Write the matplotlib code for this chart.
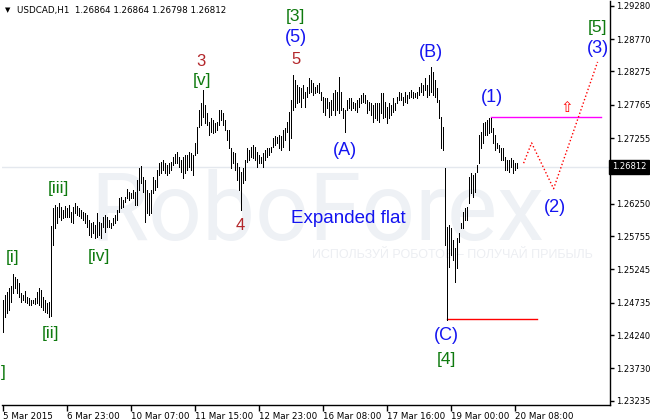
import matplotlib
matplotlib.use("Agg")
import matplotlib.pyplot as plt
import matplotlib.transforms as mtransforms

# USDCAD H1 bars, 5 Mar 2015 15:00 .. 20 Mar
highs = [
    1.2478, 1.2485, 1.2490, 1.2496, 1.2499, 1.2518, 1.2513, 1.2510, 1.2504, 1.2488,
    1.2485, 1.2492, 1.2482, 1.2481, 1.2478, 1.2478, 1.2481, 1.2490, 1.2496, 1.2493,
    1.2482, 1.2478, 1.2473, 1.2475, 1.2591,
    1.2618, 1.2623, 1.2620, 1.2626, 1.2620, 1.2615, 1.2622, 1.2618, 1.2623, 1.2612,
    1.2620, 1.2626, 1.2622, 1.2618, 1.2615, 1.2612, 1.2611, 1.2608, 1.2600, 1.2596,
    1.2597, 1.2592, 1.2611, 1.2597, 1.2596, 1.2605, 1.2608, 1.2605, 1.2600, 1.2596,
    1.2603, 1.2608, 1.2615, 1.2634, 1.2635, 1.2631, 1.2635, 1.2648, 1.2643, 1.2641,
    1.2646, 1.2643, 1.2661, 1.2680, 1.2683, 1.2666, 1.2661, 1.2646, 1.2641, 1.2646,
    1.2666, 1.2661, 1.2677, 1.2687, 1.2689, 1.2692, 1.2687, 1.2684, 1.2687, 1.2689,
    1.2697, 1.2701,
    1.2704, 1.2697, 1.2692, 1.2697, 1.2700, 1.2700, 1.2704, 1.2703, 1.2700, 1.2718,
    1.2742, 1.2768, 1.2779, 1.2799, 1.2776, 1.2764, 1.2750, 1.2756, 1.2753, 1.2749,
    1.2750, 1.2768, 1.2768, 1.2764, 1.2753, 1.2738, 1.2738, 1.2710, 1.2704, 1.2703,
    1.2687, 1.2681, 1.2674, 1.2680, 1.2692, 1.2710, 1.2707, 1.2712, 1.2715, 1.2712,
    1.2704, 1.2700, 1.2697, 1.2703, 1.2707, 1.2710, 1.2710, 1.2712, 1.2726, 1.2729,
    1.2727, 1.2730, 1.2729, 1.2738, 1.2741, 1.2750, 1.2765, 1.2784, 1.2822, 1.2814,
    1.2807, 1.2804, 1.2802, 1.2807, 1.2796, 1.2804, 1.2817, 1.2814, 1.2810, 1.2804,
    1.2807, 1.2810, 1.2796, 1.2788, 1.2787, 1.2787, 1.2781, 1.2784, 1.2794, 1.2799,
    1.2796, 1.2819, 1.2796, 1.2771, 1.2768, 1.2784, 1.2787,
    1.2787, 1.2781, 1.2779, 1.2784, 1.2787, 1.2791, 1.2794, 1.2791, 1.2784, 1.2781,
    1.2779, 1.2776, 1.2779, 1.2779, 1.2779, 1.2794, 1.2794, 1.2781, 1.2773, 1.2779,
    1.2776, 1.2787, 1.2779, 1.2788, 1.2796, 1.2794, 1.2788, 1.2796, 1.2791, 1.2796,
    1.2799, 1.2796, 1.2794, 1.2796, 1.2804, 1.2810, 1.2807, 1.2817, 1.2807, 1.2822,
    1.2834, 1.2827, 1.2814, 1.2802, 1.2784, 1.2758, 1.2742, 1.2680, 1.2589, 1.2592,
    1.2588, 1.2569, 1.2557, 1.2573, 1.2580, 1.2596, 1.2612, 1.2618, 1.2620, 1.2666,
    1.2672, 1.2669, 1.2672, 1.2684, 1.2730, 1.2735, 1.2749, 1.2750, 1.2753, 1.2756,
    1.2756, 1.2741, 1.2730, 1.2718, 1.2715, 1.2710, 1.2710, 1.2697, 1.2692, 1.2692,
    1.2695, 1.2692, 1.2687, 1.2687,
]
lows = [
    1.2429, 1.2452, 1.2458, 1.2462, 1.2475, 1.2488, 1.2496, 1.2488, 1.2482, 1.2475,
    1.2478, 1.2475, 1.2473, 1.2470, 1.2470, 1.2473, 1.2472, 1.2473, 1.2470, 1.2467,
    1.2462, 1.2459, 1.2458, 1.2452, 1.2453,
    1.2562, 1.2588, 1.2596, 1.2605, 1.2600, 1.2603, 1.2605, 1.2605, 1.2605, 1.2597,
    1.2596, 1.2611, 1.2608, 1.2606, 1.2603, 1.2600, 1.2596, 1.2589, 1.2577, 1.2574,
    1.2580, 1.2573, 1.2574, 1.2577, 1.2573, 1.2589, 1.2582, 1.2589, 1.2589, 1.2588,
    1.2592, 1.2596, 1.2600, 1.2612, 1.2618, 1.2620, 1.2628, 1.2634, 1.2631, 1.2634,
    1.2634, 1.2623, 1.2623, 1.2646, 1.2657, 1.2643, 1.2597, 1.2611, 1.2608, 1.2611,
    1.2641, 1.2646, 1.2651, 1.2669, 1.2672, 1.2677, 1.2672, 1.2669, 1.2672, 1.2677,
    1.2684, 1.2687,
    1.2687, 1.2681, 1.2674, 1.2664, 1.2672, 1.2677, 1.2681, 1.2677, 1.2669, 1.2700,
    1.2703, 1.2742, 1.2746, 1.2758, 1.2749, 1.2746, 1.2730, 1.2735, 1.2733, 1.2735,
    1.2738, 1.2746, 1.2753, 1.2746, 1.2738, 1.2723, 1.2710, 1.2680, 1.2687, 1.2677,
    1.2661, 1.2646, 1.2615, 1.2657, 1.2661, 1.2689, 1.2692, 1.2697, 1.2695, 1.2692,
    1.2681, 1.2687, 1.2687, 1.2681, 1.2692, 1.2697, 1.2700, 1.2704, 1.2712, 1.2715,
    1.2718, 1.2710, 1.2707, 1.2712, 1.2723, 1.2735, 1.2707, 1.2726, 1.2768, 1.2773,
    1.2779, 1.2781, 1.2773, 1.2787, 1.2773, 1.2788, 1.2794, 1.2796, 1.2791, 1.2794,
    1.2796, 1.2794, 1.2784, 1.2765, 1.2761, 1.2771, 1.2758, 1.2761, 1.2768, 1.2761,
    1.2768, 1.2764, 1.2768, 1.2756, 1.2735, 1.2768, 1.2771,
    1.2768, 1.2771, 1.2768, 1.2765, 1.2773, 1.2779, 1.2781, 1.2779, 1.2764, 1.2768,
    1.2761, 1.2750, 1.2756, 1.2753, 1.2750, 1.2764, 1.2756, 1.2758, 1.2749, 1.2756,
    1.2761, 1.2765, 1.2768, 1.2779, 1.2784, 1.2784, 1.2776, 1.2781, 1.2779, 1.2787,
    1.2788, 1.2787, 1.2788, 1.2787, 1.2791, 1.2796, 1.2791, 1.2799, 1.2788, 1.2791,
    1.2796, 1.2791, 1.2788, 1.2781, 1.2756, 1.2710, 1.2707, 1.2562, 1.2447, 1.2528,
    1.2547, 1.2539, 1.2505, 1.2527, 1.2566, 1.2588, 1.2588, 1.2600, 1.2600, 1.2626,
    1.2641, 1.2635, 1.2643, 1.2674, 1.2687, 1.2710, 1.2718, 1.2730, 1.2730, 1.2733,
    1.2735, 1.2718, 1.2707, 1.2710, 1.2704, 1.2692, 1.2692, 1.2677, 1.2677, 1.2674,
    1.2681, 1.2672, 1.2677, 1.2680,
]

tick_labels = ["5 Mar 2015", "6 Mar 23:00", "10 Mar 07:00", "11 Mar 15:00",
               "12 Mar 23:00", "16 Mar 08:00", "17 Mar 16:00", "19 Mar 00:00",
               "20 Mar 08:00"]
bars_per_tick = 32
price_ticks = [1.29280, 1.28770, 1.28275, 1.27765, 1.27255, 1.26760, 1.26250,
               1.25755, 1.25245, 1.24735, 1.24240, 1.23730, 1.23235]
last_price = 1.26812
title = "USDCAD,H1  1.26864 1.26864 1.26798 1.26812"

# forecast path (bar index, price)
proj_idx = [260.5, 264.5, 275.5, 297.5]
proj_price = [1.2687, 1.2718, 1.2648, 1.2842]
level_1 = 1.2757      # wave (1) top
level_c = 1.2448      # wave (C) bottom

# wave marks: text, bar index, price, kind
waves = [
    ("[i]", 5, 1.2542, "g"), ("[ii]", 24, 1.2427, "g"), ("[iii]", 28, 1.2649, "g"),
    ("[iv]", 48, 1.2544, "g"), ("[v]", 99.5, 1.2814, "g"), ("3", 99, 1.2842, "r"),
    ("4", 119, 1.2591, "r"), ("5", 146.5, 1.2846, "r"), ("(5)", 146.5, 1.2880, "b"),
    ("[3]", 146.5, 1.2911, "g"), ("(A)", 171, 1.2707, "b"), ("(B)", 214, 1.2857, "b"),
    ("(C)", 222, 1.2423, "b"), ("[4]", 222, 1.2387, "g"), ("(1)", 244.5, 1.2787, "b"),
    ("(2)", 276, 1.2619, "b"), ("(3)", 297.5, 1.2862, "b"), ("[5]", 297.5, 1.2894, "g"),
    ("]", 0.5, 1.2366, "g"),
]
colors = {"g": "#0f7a0f", "r": "#b3262a", "b": "#1414f0"}
sizes = {"g": 12.5, "r": 12, "b": 13}

fig = plt.figure(figsize=(6.5, 4.2), dpi=100)
fig.patch.set_facecolor("white")

ax = fig.add_axes([2 / 650, 15 / 420, 608 / 650, 404 / 420])
ax.patch.set_alpha(0)
ax.set_xlim(-0.3, 303.7)
ax.set_ylim(1.23170, 1.29352)

# watermark, behind everything
ax.text(90 / 650, 1 - 240 / 420, "RoboForex", family="Roboto", fontsize=68,
        color="#eef1f5", va="baseline", ha="left", zorder=0,
        transform=fig.transFigure)
ax.text(312 / 650, 1 - 255 / 420, "ИСПОЛЬЗУЙ РОБОТОВ – ПОЛУЧАЙ ПРИБЫЛЬ",
        family="Liberation Sans", fontsize=9, color="#eceef2", va="center",
        ha="left", zorder=0, transform=fig.transFigure)

idx = list(range(len(highs)))
ax.axhline(last_price, color="#e4e8ee", lw=1, zorder=1)
ax.vlines(idx, lows, highs, color="black", lw=0.6, zorder=3,
          antialiased=False)

ax.plot([244, 299], [level_1, level_1], color="#ff00ff", lw=1, zorder=2)
ax.plot([222, 267], [level_c, level_c], color="red", lw=1, zorder=2)
ax.plot(proj_idx, proj_price, color="red", lw=1.0, ls=(0, (1.0, 1.6)), zorder=2)
ax.text(282, 1.2772, "⇧", color="red", fontsize=11, ha="center", va="center",
        family="DejaVu Sans")

for txt, i, p, k in waves:
    ax.text(i, p, txt, color=colors[k], fontsize=sizes[k], ha="center",
            va="center", family="Liberation Sans", zorder=4)
ax.text(173, 1.2603, "Expanded flat", color="#1414f0", fontsize=13.5,
        ha="center", va="center", family="Liberation Sans", zorder=4)

# axes styling in the MT4 manner
for s in ["left", "top"]:
    ax.spines[s].set_visible(False)
for s in ["right", "bottom"]:
    ax.spines[s].set_linewidth(1)
ax.yaxis.tick_right()
ax.set_yticks(price_ticks)
ax.set_yticklabels(["%.5f" % v for v in price_ticks])
ax.set_xticks([k * bars_per_tick for k in range(len(tick_labels))])
ax.set_xticklabels(tick_labels, ha="left")
ax.tick_params(axis="y", length=3, width=1, pad=1.5, labelsize=6.0)
ax.tick_params(axis="x", length=4, width=1, pad=1, labelsize=6.3)

trans = mtransforms.blended_transform_factory(ax.transAxes, ax.transData)
ax.text(1.003, last_price, "1.26812", transform=trans, ha="left", va="center",
        color="white", fontsize=6.0, zorder=6,
        bbox=dict(boxstyle="square,pad=0.3", fc="black", ec="black"))

fig.text(5 / 650, 1 - 10 / 420, "▼", fontsize=5, va="center", ha="left")
fig.text(17 / 650, 1 - 10 / 420, title, fontsize=6.3, va="center", ha="left")

fig.savefig("out.png", dpi=100)
